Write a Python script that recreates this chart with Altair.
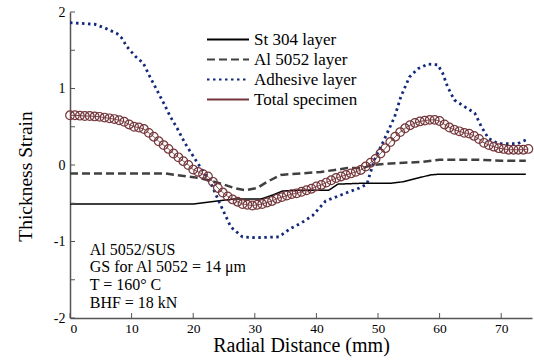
import altair as alt
import pandas as pd

# ---- data ----
st_x = [0, 20, 21, 22, 24, 26.6, 31, 33, 34.5, 37.5, 42, 43.5, 47, 52, 54, 56.5, 58.5, 60, 74]
st_y = [-0.51, -0.51, -0.50, -0.49, -0.47, -0.445, -0.445, -0.39, -0.34, -0.33, -0.33, -0.25,
        -0.24, -0.24, -0.22, -0.17, -0.13, -0.12, -0.12]

al_x = [0, 15.5, 17, 21, 24.4, 26.6, 28.5, 30.4, 32, 34.2, 37.5, 40.7, 43, 45, 47.5, 49, 52,
        57, 60, 66, 70, 74]
al_y = [-0.11, -0.11, -0.13, -0.17, -0.24, -0.30, -0.33, -0.30, -0.22, -0.13, -0.11, -0.09,
        -0.065, -0.04, -0.04, 0.0, 0.02, 0.04, 0.07, 0.07, 0.055, 0.055]

ad_x = [0, 4, 5.7, 7.6, 8.4, 9.2, 10.6, 11.9, 13, 14.1, 15.2, 16.3, 17.4, 18.7, 20.4, 22, 23.1,
        24.2, 26.1, 28, 30, 33.9, 35.8, 37.5, 39.4, 41.5, 43.4, 45, 47, 48.2, 49.4, 51, 52.7,
        53.7, 55.1, 56.5, 58.1, 59.7, 60.5, 61.3, 62.4, 64.1, 65.7, 66.8, 67.9, 69.5, 72.7, 74.1]
ad_y = [1.86, 1.84, 1.79, 1.72, 1.66, 1.55, 1.42, 1.33, 1.15, 0.98, 0.81, 0.63, 0.48, 0.28,
        0.065, -0.13, -0.28, -0.48, -0.81, -0.94, -0.95, -0.94, -0.83, -0.76, -0.66, -0.47,
        -0.41, -0.36, -0.30, -0.25, 0.065, 0.33, 0.63, 0.89, 1.15, 1.26, 1.32, 1.31, 1.2, 1.02,
        0.85, 0.76, 0.68, 0.5, 0.35, 0.28, 0.28, 0.33]

tot_x = [0, 0.8, 1.6, 2.4, 3.2, 4.0, 4.8, 5.6, 6.4, 7.2, 8.0, 8.8, 9.6, 10.4, 11.2, 12.0, 12.8,
         13.6, 14.4, 15.2, 16.0, 16.8, 17.6, 18.4, 19.2, 20.0, 20.8, 21.6, 22.4, 23.2, 24.0,
         24.8, 25.6, 26.4, 27.2, 28.0, 28.8, 29.6, 30.4, 31.2, 32.0, 32.8, 33.6, 34.4, 35.2,
         36.0, 36.8, 37.6, 38.4, 39.2, 40.0, 40.8, 41.6, 42.4, 43.2, 44.0, 44.8, 45.6, 46.4,
         47.2, 48.0, 48.8, 49.6, 50.4, 51.2, 52.0, 52.8, 53.6, 54.4, 55.2, 56.0, 56.8, 57.6,
         58.4, 59.2, 60.0, 60.8, 61.6, 62.4, 63.2, 64.0, 64.8, 65.6, 66.4, 67.2, 68.0, 68.8,
         69.6, 70.4, 71.2, 72.0, 72.8, 73.6, 74.4]
tot_y = [0.65, 0.65, 0.645, 0.64, 0.64, 0.635, 0.63, 0.62, 0.61, 0.60, 0.585, 0.565, 0.53,
         0.50, 0.49, 0.47, 0.42, 0.37, 0.31, 0.26, 0.21, 0.15, 0.10, 0.05, 0.0, -0.06, -0.09,
         -0.12, -0.15, -0.22, -0.30, -0.36, -0.41, -0.45, -0.48, -0.51, -0.52, -0.53, -0.52,
         -0.51, -0.49, -0.47, -0.44, -0.42, -0.40, -0.38, -0.37, -0.35, -0.33, -0.31, -0.28,
         -0.26, -0.23, -0.20, -0.17, -0.15, -0.13, -0.11, -0.09, -0.065, -0.02, 0.03, 0.08,
         0.15, 0.22, 0.30, 0.37, 0.43, 0.48, 0.52, 0.55, 0.57, 0.58, 0.59, 0.59, 0.575, 0.53,
         0.49, 0.46, 0.44, 0.42, 0.41, 0.38, 0.34, 0.29, 0.26, 0.24, 0.22, 0.21, 0.20, 0.20,
         0.20, 0.20, 0.21]

series_names = ["St 304 layer", "Al 5052 layer", "Adhesive layer", "Total specimen"]
series_colors = ["#000000", "#404040", "#13297a", "#74363a"]
series_dashes = [[1, 0], [8, 4], [2.5, 3.5], [1, 0]]
series_widths = [1.5, 2.5, 2.8, 1]

x_ticks = [0, 10, 20, 30, 40, 50, 60, 70]
y_ticks = [-2, -1.5, -1, -0.5, 0, 0.5, 1, 1.5, 2]

note_lines = ["Al 5052/SUS", "GS for Al 5052 = 14 μm", "T = 160° C", "BHF = 18 kN"]
note_x = [3.2, 3.2, 3.2, 3.2]
note_y = [-1.111, -1.333, -1.569, -1.804]

# ---- tables ----
rows = []
for name, xs, ys in zip(series_names, [st_x, al_x, ad_x, tot_x], [st_y, al_y, ad_y, tot_y]):
    for i, (a, b) in enumerate(zip(xs, ys)):
        rows.append({"series": name, "x": a, "y": b, "i": i})
df = pd.DataFrame(rows)
width_map = dict(zip(series_names, series_widths))
df["w"] = df["series"].map(width_map)

tot_df = df[df["series"] == "Total specimen"]
xt_df = pd.DataFrame({"t": x_ticks})
yt_df = pd.DataFrame({"t": y_ticks})
note_df = pd.DataFrame({"text": note_lines, "x": note_x, "y": note_y})

FONT = "Liberation Serif"
xscale = alt.Scale(domain=[0, 75], nice=False, zero=False)
yscale = alt.Scale(domain=[-2, 2], nice=False, zero=False)

x_enc = alt.X("x:Q", scale=xscale, title="Radial Distance (mm)",
              axis=alt.Axis(values=x_ticks, tickSize=0, labelPadding=3, grid=False,
                            labelFont=FONT, titleFont=FONT, titleFontWeight="normal",
                            titleFontSize=20, titlePadding=1, labelFontSize=13.5))
y_enc = alt.Y("y:Q", scale=yscale, title="Thickness Strain",
              axis=alt.Axis(values=y_ticks, tickSize=0, labelPadding=5, grid=False,
                            labelFont=FONT, titleFont=FONT, titleFontWeight="normal",
                            titleFontSize=19.5, titlePadding=18, titleY=164,
                            labelFontSize=14,
                            labelExpr="datum.value < 0 ? '-' + format(-datum.value, '') : format(datum.value, '')"))

lines = alt.Chart(df).mark_line(clip=True).encode(
    x=x_enc,
    y=y_enc,
    order="i:Q",
    color=alt.Color("series:N", scale=alt.Scale(domain=series_names, range=series_colors),
                    title=None,
                    legend=alt.Legend(orient="none", legendX=136, legendY=19,
                                      symbolType="stroke", symbolSize=1764,
                                      clipHeight=17, symbolStrokeWidth=2, labelFont=FONT,
                                      labelFontSize=17, labelOffset=4, rowPadding=2,
                                      labelColor="#000000")),
    strokeDash=alt.StrokeDash("series:N",
                              scale=alt.Scale(domain=series_names, range=series_dashes),
                              legend=None),
    strokeWidth=alt.StrokeWidth("w:Q", scale=None, legend=None),
)

circles = alt.Chart(tot_df).mark_point(shape="circle", filled=False, size=75,
                                       strokeWidth=1.2, color="#74363a", opacity=1).encode(
    x=alt.X("x:Q", scale=xscale),
    y=alt.Y("y:Q", scale=yscale),
)

xticks = alt.Chart(xt_df).mark_rule(color="#555555", strokeWidth=1).encode(
    x=alt.X("t:Q", scale=xscale), y=alt.value(306), y2=alt.value(301))
yticks = alt.Chart(yt_df).mark_rule(color="#555555", strokeWidth=1).encode(
    y=alt.Y("t:Q", scale=yscale), x=alt.value(0), x2=alt.value(5))

notes = alt.Chart(note_df).mark_text(align="left", baseline="middle", font=FONT,
                                     fontSize=16, color="#000000").encode(
    x=alt.X("x:Q", scale=xscale), y=alt.Y("y:Q", scale=yscale), text="text:N")

chart = alt.layer(lines, circles, xticks, yticks, notes).properties(
    width=462, height=306,
    autosize=alt.AutoSizeParams(type="none"),
    padding={"left": 70, "top": 12, "right": 2, "bottom": 42},
    background="white",
).configure(font=FONT).configure_view(stroke=None).configure_axis(
    labelFont=FONT, titleFont=FONT, titleFontWeight="normal", labelColor="#000000",
    titleColor="#000000", domainColor="#555555", domainWidth=1.5,
).configure_legend(labelFont=FONT).configure_text(font=FONT)

chart.save("out.html", embed_options={"renderer": "svg", "actions": False})
